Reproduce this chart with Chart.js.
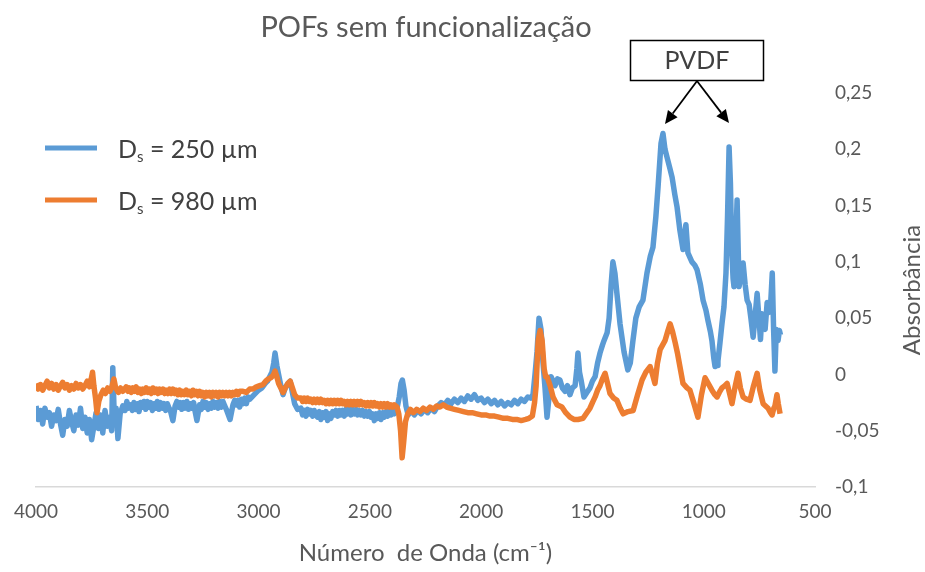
<!DOCTYPE html>
<html>
<head>
<meta charset="utf-8">
<title>POFs sem funcionalização</title>
<script src="https://cdn.jsdelivr.net/npm/chart.js@4.4.0/dist/chart.umd.min.js"></script>
<style>
  html, body { margin: 0; padding: 0; background: #fff; }
  #wrap { width: 925px; height: 572px; position: relative; }
</style>
</head>
<body>
<div id="wrap"><canvas id="chart"></canvas></div>
<script>
// FTIR spectra, [wavenumber cm-1, absorbance]
const spectrum250 = [
  // 4000-3600, noisy
  [4000,-0.028],[3990,-0.040],[3980,-0.032],[3970,-0.044],[3960,-0.030],[3950,-0.038],[3940,-0.034],[3930,-0.046],
  [3920,-0.036],[3910,-0.041],[3900,-0.031],[3890,-0.044],[3880,-0.054],[3870,-0.040],[3860,-0.046],[3850,-0.032],
  [3840,-0.042],[3830,-0.050],[3820,-0.036],[3810,-0.045],[3800,-0.030],[3790,-0.048],[3780,-0.038],[3770,-0.052],
  [3760,-0.040],[3750,-0.058],[3740,-0.046],[3730,-0.034],[3720,-0.048],[3710,-0.036],[3700,-0.052],[3690,-0.032],
  [3680,-0.046],[3670,-0.038],[3660,-0.050],[3655,0.006],[3648,-0.040],[3640,-0.030],[3632,-0.057],[3622,-0.035],
  [3610,-0.028],
  // 3600-3000
  [3600,-0.032],[3592,-0.024],[3584,-0.030],[3575,-0.027],[3567,-0.032],[3560,-0.025],[3552,-0.031],[3545,-0.026],
  [3537,-0.033],[3530,-0.025],[3522,-0.029],[3515,-0.024],[3507,-0.031],[3500,-0.024],[3492,-0.029],[3485,-0.025],
  [3477,-0.032],[3470,-0.026],[3462,-0.030],[3455,-0.024],[3447,-0.031],[3440,-0.025],[3432,-0.030],[3425,-0.026],
  [3417,-0.032],[3410,-0.026],[3402,-0.030],[3395,-0.033],[3385,-0.041],[3375,-0.028],[3367,-0.024],[3360,-0.029],
  [3352,-0.025],[3345,-0.031],[3337,-0.025],[3330,-0.030],[3322,-0.024],[3315,-0.031],[3307,-0.026],[3300,-0.030],
  [3292,-0.025],[3285,-0.033],[3277,-0.041],[3265,-0.027],[3257,-0.031],[3250,-0.024],[3242,-0.029],[3235,-0.025],
  [3227,-0.031],[3220,-0.026],[3212,-0.030],[3205,-0.024],[3197,-0.029],[3190,-0.025],[3182,-0.030],[3175,-0.024],
  [3167,-0.029],[3160,-0.024],[3152,-0.028],[3145,-0.031],[3128,-0.040],[3115,-0.027],[3107,-0.023],[3100,-0.027],
  [3092,-0.023],[3085,-0.029],[3077,-0.022],[3070,-0.026],[3062,-0.021],[3055,-0.026],[3047,-0.020],[3040,-0.022],
  [3025,-0.019],[3010,-0.016],
  // C-H band
  [3000,-0.014],[2985,-0.012],[2970,-0.008],[2960,-0.006],[2950,-0.002],[2940,0.002],[2932,0.010],[2926,0.019],
  [2918,0.008],[2910,0.000],[2900,-0.010],[2890,-0.018],[2880,-0.012],[2868,-0.008],[2858,-0.006],[2848,-0.016],
  [2838,-0.026],[2825,-0.031],
  // 2800-2380
  [2810,-0.030],[2802,-0.036],[2795,-0.032],[2787,-0.037],[2780,-0.031],[2772,-0.035],[2765,-0.032],[2757,-0.037],
  [2750,-0.032],[2742,-0.036],[2735,-0.038],[2727,-0.033],[2720,-0.040],[2712,-0.034],[2705,-0.038],[2697,-0.033],
  [2690,-0.041],[2682,-0.035],[2675,-0.039],[2667,-0.033],[2660,-0.036],[2652,-0.032],[2645,-0.037],[2637,-0.032],
  [2630,-0.036],[2622,-0.032],[2615,-0.037],[2607,-0.031],[2600,-0.035],[2592,-0.031],[2585,-0.036],[2577,-0.031],
  [2570,-0.035],[2562,-0.031],[2555,-0.036],[2547,-0.032],[2540,-0.036],[2532,-0.032],[2525,-0.037],[2517,-0.033],
  [2510,-0.037],[2502,-0.033],[2495,-0.038],[2487,-0.035],[2480,-0.041],[2472,-0.035],[2465,-0.039],[2457,-0.034],
  [2450,-0.040],[2442,-0.034],[2435,-0.038],[2427,-0.033],[2420,-0.037],[2412,-0.032],[2405,-0.036],[2397,-0.032],
  [2390,-0.035],[2378,-0.030],
  // CO2
  [2368,-0.020],[2360,-0.008],[2354,-0.005],[2346,-0.014],[2338,-0.028],[2328,-0.036],[2315,-0.032],
  // 2300-1770
  [2300,-0.036],[2285,-0.032],[2270,-0.035],[2255,-0.031],[2240,-0.034],[2225,-0.030],[2210,-0.033],[2195,-0.028],
  [2180,-0.025],[2165,-0.027],[2150,-0.023],[2135,-0.026],[2120,-0.022],[2105,-0.025],[2090,-0.021],[2075,-0.024],
  [2060,-0.019],[2045,-0.022],[2030,-0.018],[2015,-0.023],[2000,-0.021],[1985,-0.025],[1970,-0.022],[1955,-0.026],
  [1940,-0.023],[1925,-0.027],[1910,-0.024],[1895,-0.028],[1880,-0.025],[1865,-0.027],[1850,-0.023],[1835,-0.026],
  [1820,-0.022],[1805,-0.024],[1790,-0.020],[1778,-0.021],[1767,-0.018],
  // carbonyl and fingerprint region
  [1758,0.000],[1749,0.020],[1740,0.050],[1731,0.040],[1722,0.010],[1713,-0.012],[1704,-0.038],[1695,-0.020],
  [1686,-0.002],[1677,-0.006],[1668,-0.010],[1657,-0.004],[1646,-0.005],[1635,-0.012],[1623,-0.015],[1612,-0.010],
  [1601,-0.018],[1590,-0.012],[1578,-0.010],[1570,0.005],[1565,0.019],[1558,0.002],[1551,-0.005],[1538,-0.020],
  [1525,-0.016],[1511,-0.012],[1500,-0.006],[1488,-0.002],[1477,0.010],[1466,0.019],[1455,0.026],[1448,0.030],
  [1434,0.037],[1425,0.050],[1416,0.080],[1408,0.100],[1399,0.090],[1390,0.072],[1376,0.045],[1358,0.020],
  [1341,0.004],[1330,0.010],[1318,0.030],[1305,0.050],[1290,0.060],[1273,0.066],[1255,0.090],[1240,0.105],
  [1228,0.113],[1215,0.140],[1205,0.167],[1192,0.205],[1183,0.214],[1174,0.200],[1165,0.193],[1152,0.183],
  [1142,0.175],[1130,0.160],[1120,0.149],[1107,0.128],[1093,0.111],[1085,0.125],[1080,0.133],[1071,0.108],
  [1053,0.100],[1040,0.097],[1030,0.093],[1015,0.080],[1003,0.066],[990,0.057],[981,0.048],[970,0.038],
  [963,0.030],[955,0.015],[949,0.007],[940,0.008],[936,0.012],[927,0.028],[918,0.045],[909,0.060],
  [900,0.090],[893,0.140],[886,0.202],[880,0.170],[874,0.110],[868,0.085],[864,0.078],[857,0.110],
  [850,0.155],[845,0.110],[841,0.078],[832,0.090],[823,0.099],[814,0.080],[805,0.066],[796,0.062],
  [788,0.050],[778,0.033],[770,0.050],[760,0.072],[752,0.050],[745,0.031],[738,0.054],[730,0.045],
  [724,0.040],[715,0.064],[708,0.055],[700,0.060],[692,0.090],[686,0.040],[680,0.003],[674,0.040],
  [666,0.030],[660,0.039],[655,0.035]
];

const spectrum980 = [
  [4000,-0.008],[3990,-0.013],[3980,-0.009],[3970,-0.014],[3960,-0.010],[3950,-0.006],[3940,-0.012],[3930,-0.008],
  [3920,-0.013],[3910,-0.009],[3900,-0.014],[3890,-0.010],[3880,-0.007],[3870,-0.012],[3860,-0.009],[3850,-0.014],
  [3840,-0.010],[3830,-0.013],[3820,-0.008],[3810,-0.012],[3800,-0.009],[3790,-0.013],[3780,-0.010],[3770,-0.006],
  [3760,-0.011],[3752,-0.004],[3746,0.002],[3740,-0.010],[3732,-0.022],[3726,-0.034],[3718,-0.024],[3708,-0.018],
  [3698,-0.014],[3688,-0.017],[3678,-0.012],[3668,-0.015],[3658,-0.010],[3650,-0.004],[3642,-0.012],[3630,-0.016],
  [3620,-0.012],[3610,-0.015],
  [3595,-0.011],[3587,-0.015],[3580,-0.012],[3572,-0.016],[3565,-0.012],[3557,-0.015],[3550,-0.011],[3542,-0.016],
  [3535,-0.013],[3527,-0.017],[3520,-0.013],[3512,-0.016],[3505,-0.012],[3497,-0.016],[3490,-0.013],[3482,-0.017],
  [3475,-0.012],[3467,-0.016],[3460,-0.013],[3452,-0.017],[3445,-0.013],[3437,-0.016],[3430,-0.013],[3422,-0.017],
  [3415,-0.014],[3407,-0.017],[3400,-0.013],[3392,-0.017],[3385,-0.013],[3377,-0.017],[3370,-0.014],[3362,-0.018],
  [3355,-0.014],[3347,-0.018],[3340,-0.015],[3332,-0.018],[3325,-0.014],[3317,-0.018],[3310,-0.015],[3302,-0.019],
  [3295,-0.014],[3287,-0.018],[3280,-0.015],[3272,-0.019],[3265,-0.015],[3257,-0.019],[3250,-0.016],[3242,-0.020],
  [3235,-0.016],[3227,-0.019],[3220,-0.016],[3212,-0.020],[3205,-0.016],[3197,-0.019],[3190,-0.016],[3182,-0.020],
  [3175,-0.016],[3167,-0.019],[3160,-0.016],[3152,-0.019],[3145,-0.016],[3137,-0.019],[3130,-0.016],[3122,-0.019],
  [3115,-0.016],[3107,-0.018],[3100,-0.015],[3092,-0.018],[3085,-0.015],[3070,-0.015],[3055,-0.016],[3040,-0.013],
  [3025,-0.013],[3010,-0.011],
  [2995,-0.010],[2980,-0.009],[2968,-0.006],[2956,-0.004],[2945,-0.003],[2935,-0.001],[2926,0.003],[2918,-0.002],
  [2910,-0.008],[2900,-0.012],[2890,-0.016],[2880,-0.012],[2868,-0.008],[2858,-0.006],[2848,-0.012],[2838,-0.018],
  [2825,-0.021],
  [2810,-0.021],[2802,-0.024],[2795,-0.021],[2787,-0.024],[2780,-0.021],[2772,-0.024],[2765,-0.022],[2757,-0.025],
  [2750,-0.022],[2742,-0.025],[2735,-0.022],[2727,-0.025],[2720,-0.022],[2712,-0.025],[2705,-0.023],[2697,-0.026],
  [2690,-0.023],[2682,-0.026],[2675,-0.023],[2667,-0.026],[2660,-0.023],[2652,-0.026],[2645,-0.023],[2637,-0.026],
  [2630,-0.023],[2622,-0.026],[2615,-0.024],[2607,-0.027],[2600,-0.024],[2592,-0.027],[2585,-0.024],[2577,-0.027],
  [2570,-0.024],[2562,-0.027],[2555,-0.024],[2547,-0.027],[2540,-0.024],[2532,-0.027],[2525,-0.025],[2517,-0.028],
  [2510,-0.025],[2502,-0.028],[2495,-0.025],[2487,-0.028],[2480,-0.025],[2472,-0.028],[2465,-0.026],[2457,-0.029],
  [2450,-0.026],[2442,-0.029],[2435,-0.026],[2427,-0.029],[2420,-0.026],[2412,-0.029],[2405,-0.027],[2397,-0.029],
  [2390,-0.027],[2378,-0.029],
  [2370,-0.035],[2362,-0.050],[2355,-0.074],[2348,-0.060],[2340,-0.042],[2330,-0.035],[2318,-0.031],
  [2305,-0.034],[2290,-0.031],[2275,-0.033],[2260,-0.030],[2245,-0.032],[2230,-0.029],[2215,-0.031],[2200,-0.028],
  [2185,-0.029],[2170,-0.027],[2155,-0.029],[2140,-0.030],[2120,-0.031],[2100,-0.032],[2080,-0.033],[2060,-0.034],
  [2040,-0.034],[2020,-0.035],[2000,-0.036],[1980,-0.036],[1960,-0.037],[1940,-0.037],[1920,-0.038],[1900,-0.039],
  [1880,-0.039],[1860,-0.040],[1840,-0.040],[1820,-0.041],[1800,-0.040],[1785,-0.039],[1770,-0.037],
  [1760,-0.025],[1753,-0.010],[1744,0.030],[1735,0.039],[1726,0.030],[1717,0.005],[1710,-0.002],[1704,-0.002],
  [1697,-0.006],[1690,-0.010],[1677,-0.020],[1659,-0.027],[1637,-0.029],[1620,-0.034],[1601,-0.038],[1583,-0.040],
  [1565,-0.040],[1542,-0.039],[1525,-0.034],[1511,-0.030],[1500,-0.025],[1488,-0.020],[1477,-0.014],[1466,-0.010],
  [1455,-0.004],[1443,0.001],[1432,-0.008],[1421,-0.017],[1405,-0.021],[1390,-0.023],[1375,-0.030],[1362,-0.035],
  [1340,-0.033],[1317,-0.032],[1297,-0.018],[1277,-0.005],[1260,0.002],[1241,0.007],[1230,0.000],[1219,-0.008],
  [1208,0.010],[1196,0.022],[1185,0.026],[1174,0.030],[1162,0.038],[1151,0.045],[1140,0.038],[1128,0.028],
  [1117,0.018],[1107,0.007],[1093,-0.008],[1075,-0.012],[1062,-0.014],[1045,-0.025],[1026,-0.038],[1010,-0.018],
  [994,-0.003],[980,-0.008],[963,-0.014],[950,-0.018],[940,-0.020],[930,-0.016],[918,-0.012],[905,-0.010],
  [895,-0.008],[885,-0.016],[873,-0.026],[860,-0.012],[846,0.001],[835,-0.012],[823,-0.020],[808,-0.022],
  [792,-0.023],[776,-0.010],[760,0.001],[748,-0.014],[733,-0.026],[722,-0.028],[711,-0.030],[700,-0.034],
  [693,-0.036],[685,-0.030],[680,-0.028],[671,-0.018],[665,-0.026],[657,-0.035]
];

const seriesLabels = ['250 µm', '980 µm'];
const seriesColors = ['#5b9bd5', '#ed7d31'];
const xTicks = [4000, 3500, 3000, 2500, 2000, 1500, 1000, 500];
const yTicks = [-0.1, -0.05, 0, 0.05, 0.1, 0.15, 0.2, 0.25];
const chartTitle = 'POFs sem funcionalização';
const xTitle = 'Número  de Onda (cm⁻¹)';
const yTitle = 'Absorbância';
const calloutText = 'PVDF';

const FONT = 'Lato, "Open Sans", sans-serif';

function toPoints(rows) {
  return rows.map(r => ({ x: r[0], y: r[1] }));
}

function fmtComma(v) {
  return String(Math.round(v * 100) / 100).replace('.', ',');
}

function arrow(ctx, x0, y0, x1, y1) {
  const a = Math.atan2(y1 - y0, x1 - x0);
  const len = 13, half = 6;
  const bx = x1 - len * Math.cos(a), by = y1 - len * Math.sin(a);
  ctx.beginPath();
  ctx.moveTo(x0, y0);
  ctx.lineTo(bx, by);
  ctx.stroke();
  ctx.beginPath();
  ctx.moveTo(x1, y1);
  ctx.lineTo(bx + half * Math.sin(a), by - half * Math.cos(a));
  ctx.lineTo(bx - half * Math.sin(a), by + half * Math.cos(a));
  ctx.closePath();
  ctx.fill();
}

// title, legend, rotated y title and the PVDF callout
const decorations = {
  id: 'decorations',
  afterDraw(chart) {
    const ctx = chart.ctx;
    const area = chart.chartArea;
    ctx.save();

    ctx.fillStyle = '#595959';
    ctx.font = '29px ' + FONT;
    ctx.textAlign = 'center';
    ctx.textBaseline = 'middle';
    ctx.fillText(chartTitle, 426, 28);

    // legend
    const rows = [148, 200];
    seriesLabels.forEach((lab, i) => {
      const y = rows[i];
      ctx.strokeStyle = seriesColors[i];
      ctx.lineWidth = 5;
      ctx.lineCap = 'butt';
      ctx.beginPath();
      ctx.moveTo(45, y);
      ctx.lineTo(97, y);
      ctx.stroke();

      ctx.fillStyle = '#404040';
      ctx.textAlign = 'left';
      ctx.textBaseline = 'alphabetic';
      ctx.font = '25px ' + FONT;
      let x = 118;
      const base = y + 10;
      ctx.fillText('D', x, base);
      x += ctx.measureText('D').width;
      ctx.font = '15px ' + FONT;
      ctx.fillText('s', x, base + 4);
      x += ctx.measureText('s').width;
      ctx.font = '25px ' + FONT;
      ctx.fillText(' = ' + lab, x, base);
    });

    // y axis title, reading bottom to top
    ctx.save();
    ctx.translate(912, (area.top + area.bottom) / 2);
    ctx.rotate(-Math.PI / 2);
    ctx.fillStyle = '#595959';
    ctx.font = '24px ' + FONT;
    ctx.textAlign = 'center';
    ctx.textBaseline = 'middle';
    ctx.fillText(yTitle, 0, 0);
    ctx.restore();

    // PVDF callout box with arrows to the two peaks
    ctx.strokeStyle = '#000';
    ctx.lineWidth = 1.5;
    ctx.strokeRect(630.5, 40.5, 133, 40);
    ctx.fillStyle = '#404040';
    ctx.font = '25px ' + FONT;
    ctx.textAlign = 'center';
    ctx.textBaseline = 'middle';
    ctx.fillText(calloutText, 697, 61);
    ctx.fillStyle = '#000';
    ctx.lineWidth = 1.8;
    arrow(ctx, 697, 81, 665, 124);
    arrow(ctx, 697, 81, 729, 123);

    ctx.restore();
  }
};

const ctx = document.getElementById('chart').getContext('2d');
new Chart(ctx, {
  type: 'line',
  data: {
    datasets: [
      {
        label: 'Ds = ' + seriesLabels[0],
        data: toPoints(spectrum250),
        borderColor: seriesColors[0],
        borderWidth: 5.5,
        pointRadius: 0,
        tension: 0,
        borderJoinStyle: 'round',
        order: 1
      },
      {
        label: 'Ds = ' + seriesLabels[1],
        data: toPoints(spectrum980),
        borderColor: seriesColors[1],
        borderWidth: 5.5,
        pointRadius: 0,
        tension: 0,
        borderJoinStyle: 'round',
        order: 0
      }
    ]
  },
  options: {
    responsive: true,
    maintainAspectRatio: false,
    animation: false,
    layout: { padding: { top: 93, left: 36, right: 0, bottom: 0 } },
    plugins: {
      legend: { display: false },
      tooltip: { enabled: false }
    },
    scales: {
      x: {
        type: 'linear',
        reverse: true,
        min: 500,
        max: 4000,
        afterBuildTicks: s => { s.ticks = xTicks.map(v => ({ value: v })); },
        afterFit: s => { s.height = 85; },
        grid: { display: false, drawTicks: false },
        border: { display: true, color: '#d9d9d9', width: 1.5 },
        ticks: {
          padding: 13,
          color: '#595959',
          font: { family: FONT, size: 19 },
          maxRotation: 0,
          callback: v => String(v)
        },
        title: {
          display: true,
          text: xTitle,
          color: '#595959',
          font: { family: FONT, size: 24 },
          padding: { top: 0, bottom: 4 }
        }
      },
      y: {
        position: 'right',
        min: -0.1,
        max: 0.25,
        afterBuildTicks: s => { s.ticks = yTicks.map(v => ({ value: v })); },
        afterFit: s => { s.width = 110; },
        grid: { display: false, drawTicks: false },
        border: { display: false },
        ticks: {
          padding: 20,
          color: '#595959',
          font: { family: FONT, size: 19 },
          callback: v => fmtComma(v)
        }
      }
    }
  },
  plugins: [decorations]
});
</script>
</body>
</html>
